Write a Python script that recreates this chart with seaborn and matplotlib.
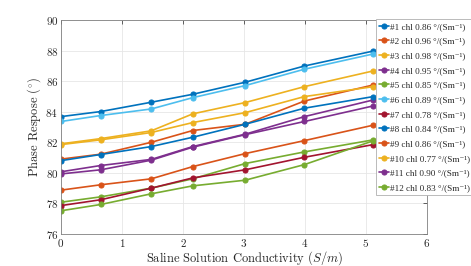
"""
plot.py
-------
Phase response vs. saline solution conductivity for 12 sensors.
"""

import numpy as np
import pandas as pd
import matplotlib
matplotlib.use("Agg")
import matplotlib.pyplot as plt
import seaborn as sns

# ---------------------------------------------------------------------------
# Data
# ---------------------------------------------------------------------------

conductivity = [0, 0.65, 1.48, 2.16, 3.02, 3.99, 5.12]

sensor_ids  = [1, 2, 3, 4, 5, 6, 7, 8, 9, 10, 11, 12]
chl_values  = [0.86, 0.96, 0.98, 0.95, 0.85, 0.89, 0.78, 0.84, 0.86, 0.77, 0.90, 0.83]

phase_s1  = [83.68, 84.01, 84.62, 85.14, 85.93, 86.99, 87.97]
phase_s2  = [80.90, 81.22, 82.00, 82.77, 83.18, 84.70, 85.75]
phase_s3  = [81.90, 82.24, 82.75, 83.86, 84.60, 85.64, 86.67]
phase_s4  = [80.07, 80.48, 80.88, 81.72, 82.53, 83.68, 84.77]
phase_s5  = [78.08, 78.43, 79.00, 79.61, 80.61, 81.37, 82.16]
phase_s6  = [83.36, 83.75, 84.18, 84.92, 85.71, 86.78, 87.78]
phase_s7  = [77.86, 78.24, 79.00, 79.67, 80.20, 81.02, 81.85]
phase_s8  = [80.80, 81.20, 81.72, 82.33, 83.18, 84.23, 84.99]
phase_s9  = [78.87, 79.22, 79.61, 80.41, 81.26, 82.11, 83.12]
phase_s10 = [81.85, 82.16, 82.64, 83.29, 83.94, 84.99, 85.64]
phase_s11 = [79.93, 80.20, 80.83, 81.68, 82.50, 83.36, 84.38]
phase_s12 = [77.52, 77.93, 78.63, 79.15, 79.52, 80.54, 82.10]

all_phases = [phase_s1, phase_s2, phase_s3, phase_s4, phase_s5, phase_s6,
              phase_s7, phase_s8, phase_s9, phase_s10, phase_s11, phase_s12]

# MATLAB default colour order (repeats after 7)
matlab_colors = ["#0072BD", "#D95319", "#EDB120", "#7E2F8E",
                 "#77AC30", "#4DBEEE", "#A2142F"]

# ---------------------------------------------------------------------------
# Build long-form table
# ---------------------------------------------------------------------------

labels = [f"#{i} chl {c:.2f} °/(Sm⁻¹)" for i, c in zip(sensor_ids, chl_values)]

rows = []
for lbl, ys in zip(labels, all_phases):
    for x, y in zip(conductivity, ys):
        rows.append({"sensor": lbl, "conductivity": x, "phase": y})
df = pd.DataFrame(rows)

palette = {lbl: matlab_colors[i % 7] for i, lbl in enumerate(labels)}

# ---------------------------------------------------------------------------
# Plot
# ---------------------------------------------------------------------------

sns.set_style("white")
plt.rcParams["font.family"] = "serif"
plt.rcParams["font.serif"] = ["cmr10", "DejaVu Serif"]
plt.rcParams["mathtext.fontset"] = "cm"
plt.rcParams["axes.formatter.use_mathtext"] = True

fig = plt.figure(figsize=(4.71, 2.66), dpi=100)
ax = fig.add_axes([61 / 471, 32 / 266, 366 / 471, 214 / 266])

sns.lineplot(
    data=df, x="conductivity", y="phase", hue="sensor",
    hue_order=labels, palette=palette,
    marker="o", markersize=3.6, markeredgewidth=0.8,
    linewidth=1.2, ax=ax, legend=True,
)
# MATLAB-style markers: edge same colour as the line
for ln in ax.get_lines():
    ln.set_markeredgecolor(ln.get_color())

ax.set_xlim(0, 6)
ax.set_ylim(76, 90)
ax.set_xticks(range(0, 7))
ax.set_yticks(range(76, 91, 2))
ax.grid(True, color="#e6e6e6", linewidth=0.6)
ax.tick_params(direction="in", top=True, right=True, length=3, width=0.5,
               labelsize=8, pad=2, colors="#262626")
for sp in ax.spines.values():
    sp.set_color("#808080")
    sp.set_linewidth(0.6)

ax.set_xlabel("Saline Solution Conductivity ($S/m$)", fontsize=9, labelpad=0)
ax.set_ylabel("Phase Respose ($^{\\circ}$)", fontsize=9, labelpad=2)

leg = ax.legend(
    loc="upper left", bbox_to_anchor=(0.861, 1.003), borderaxespad=0,
    prop={"family": ["Liberation Serif", "DejaVu Serif"], "size": 6.6},
    handlelength=1.0, handletextpad=0.2, labelspacing=0.68,
    borderpad=0.35, frameon=True, fancybox=False, framealpha=1,
)
leg.get_frame().set_edgecolor("#b0b0b0")
leg.get_frame().set_linewidth(0.6)
for h in leg.get_lines():
    h.set_markeredgecolor(h.get_color())

plt.savefig("out.png", dpi=100)
plt.close()
